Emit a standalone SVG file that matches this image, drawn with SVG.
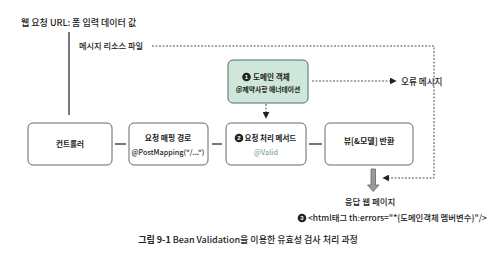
<svg xmlns="http://www.w3.org/2000/svg" width="495" height="256" viewBox="0 0 495 256">
<style>
text{font-family:"Noto Sans CJK KR","Noto Sans",sans-serif;fill:#222;font-weight:500}
.box{fill:#fff;stroke:#666;stroke-width:1}
.gbox{fill:#cfe6da;stroke:#4f6f62;stroke-width:1}
.b{font-weight:700}
.dash{fill:none;stroke:#555;stroke-width:1;stroke-dasharray:2 1.5}
.conn{stroke:#777;stroke-width:2;fill:none}
.num{fill:#fff;font-weight:700;font-size:6px;font-family:"Liberation Sans",sans-serif}
</style>
<defs>
<marker id="ah" viewBox="0 0 10 10" refX="9" refY="5" markerWidth="7" markerHeight="7" markerUnits="userSpaceOnUse" orient="auto">
<path d="M0,0 L10,5 L0,10 Z" fill="#222"/>
</marker>
</defs>
<text x="21" y="26" font-size="9">웹 요청 URL: 폼 입력 데이터 값</text>
<text x="79" y="48.5" font-size="8.2">메시지 리소스 파일</text>
<text x="401" y="84.5" font-size="8.6">오류 메시지</text>
<g id="connectors">
<line class="conn" x1="69" y1="32" x2="69" y2="115"/>
<path class="dash" d="M152,46 H434 V178 H383" marker-end="url(#ah)"/>
<path class="dash" d="M312,81 H396" marker-end="url(#ah)"/>
<path class="dash" d="M266,104 V118" marker-end="url(#ah)"/>
<line class="conn" x1="115" y1="144" x2="126" y2="144"/>
<line class="conn" x1="212" y1="144" x2="222" y2="144"/>
<line class="conn" x1="309" y1="144" x2="322" y2="144"/>
<path d="M371,169 H375.5 V185 H379 L373.25,191.5 L367.5,185 H371 Z" fill="#9a9a9a" stroke="#666" stroke-width="0.8"/>
</g>
<g id="domain">
<rect class="gbox" x="228" y="60" width="80" height="43" rx="5"/>
<circle cx="246.5" cy="77" r="4.3" fill="#222"/>
<text class="num" x="246.5" y="79.2" text-anchor="middle">1</text>
<text class="b" x="253" y="80" font-size="7.6">도메인 객체</text>
<text class="b" x="268" y="91.5" font-size="6.8" text-anchor="middle">@제약사항 애너테이션</text>
</g>
<g id="controller">
<rect class="box" x="28" y="123" width="84" height="42" rx="5"/>
<text class="b" x="70" y="147" font-size="7.6" text-anchor="middle">컨트롤러</text>
</g>
<g id="mapping">
<rect class="box" x="129" y="123" width="79" height="42" rx="5"/>
<text class="b" x="168" y="141" font-size="7.8" text-anchor="middle">요청 매핑 경로</text>
<text x="168" y="155" font-size="7.2" text-anchor="middle">@PostMapping("/...")</text>
</g>
<g id="method">
<rect class="box" x="226" y="123" width="80" height="42" rx="5"/>
<circle cx="239" cy="138" r="4.3" fill="#222"/>
<text class="num" x="239" y="140.2" text-anchor="middle">2</text>
<text class="b" x="244.5" y="141" font-size="7.5">요청 처리 메서드</text>
<text x="266" y="155" font-size="7.2" text-anchor="middle" style="fill:#8aa99a">@Valid</text>
</g>
<g id="view">
<rect class="box" x="325" y="123" width="88" height="42" rx="5"/>
<text class="b" x="369" y="144" font-size="8" text-anchor="middle">뷰[&amp;모델] 반환</text>
</g>
<g id="response">
<text x="370" y="205" font-size="8.5" text-anchor="middle">응답 웹 페이지</text>
<circle cx="302" cy="218" r="4.3" fill="#222"/>
<text class="num" x="302" y="220.2" text-anchor="middle">3</text>
<text x="308" y="221" font-size="8.4">&lt;html태그 th:errors="*{도메인객체 멤버변수}"/&gt;</text>
</g>
<text x="248" y="243" font-size="9" text-anchor="middle"><tspan font-weight="700">그림 9-1</tspan> Bean Validation을 이용한 유효성 검사 처리 과정</text>
</svg>
